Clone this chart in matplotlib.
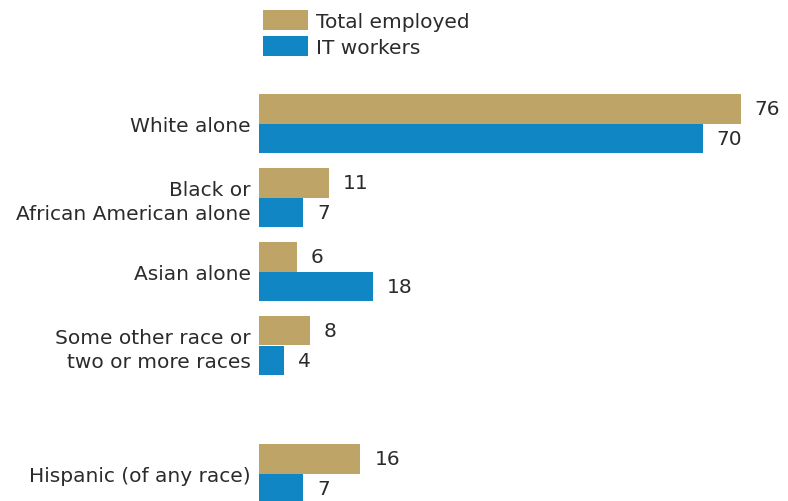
import matplotlib
matplotlib.use("Agg")
import matplotlib.pyplot as plt
import numpy as np

# data (percent)
categories = ["White alone", "Black or\nAfrican American alone", "Asian alone",
              "Some other race or\ntwo or more races", "Hispanic (of any race)"]
total_employed = [76, 11, 6, 8, 16]
it_workers = [70, 7, 18, 4, 7]
series_names = ["Total employed", "IT workers"]

TAN = "#BEA567"
BLUE = "#1086C5"
TXT = "#2b2b2b"
FS = 14.5

# group positions, extra gap before Hispanic
pos = np.array([0, 1, 2, 3, 4.73])
h = 0.40

fig = plt.figure(figsize=(7.88, 5.02), dpi=100)
ax = fig.add_axes([259 / 788, 0, 1 - 259 / 788, 1])

b1 = ax.barh(pos - h / 2, total_employed, height=h, color=TAN, label=series_names[0])
b2 = ax.barh(pos + h / 2, it_workers, height=h, color=BLUE, label=series_names[1])

for p, v in zip(pos, total_employed):
    ax.text(v + 2.2, p - h / 2, str(v), va="center", ha="left", fontsize=FS, color=TXT)
for p, v in zip(pos, it_workers):
    ax.text(v + 2.2, p + h / 2, str(v), va="center", ha="left", fontsize=FS, color=TXT)

ax.set_xlim(0, 529 / 6.34)
ax.set_ylim((502 - 124.5) / 74, -124.5 / 74)
ax.set_yticks(pos)
ax.set_yticklabels(categories, fontsize=FS, color=TXT, linespacing=1.3)
ax.tick_params(axis="y", length=0, pad=6)
ax.set_xticks([])
for s in ax.spines.values():
    s.set_visible(False)

fig.legend(handles=[b1, b2], loc="upper left", bbox_to_anchor=(263 / 788, 1 - 11 / 502),
           bbox_transform=fig.transFigure, frameon=False, fontsize=FS,
           handlelength=2.25, handleheight=1.15, handletextpad=0.4,
           labelspacing=0.25, borderpad=0, borderaxespad=0, labelcolor=TXT)

fig.savefig("out.png", dpi=100)
